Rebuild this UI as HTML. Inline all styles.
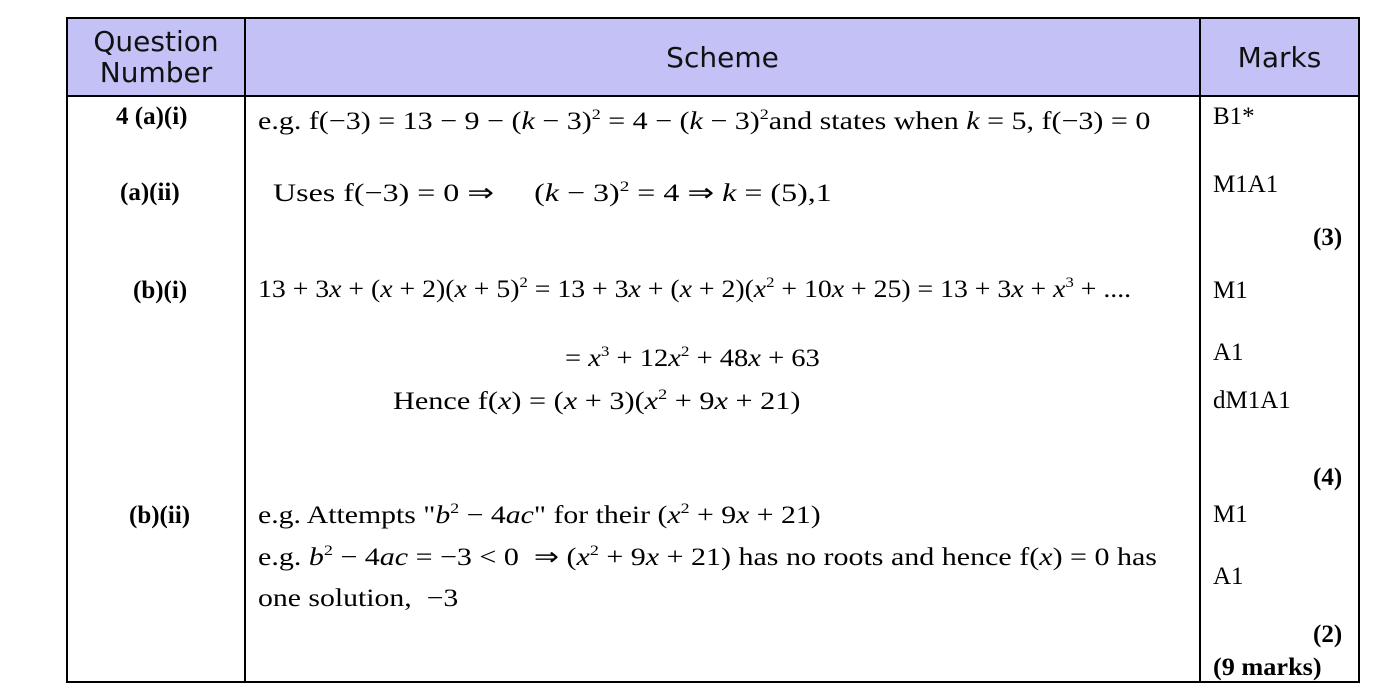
<!DOCTYPE html>
<html><head><style>
body{margin:0;width:1388px;height:690px;background:#fff;position:relative;overflow:hidden}
.b{position:absolute;background:#000}
.t{position:absolute;font-family:"Liberation Serif",serif;font-size:25px;color:#000;white-space:nowrap;line-height:1;transform-origin:0 0}
.h{position:absolute;font-family:"DejaVu Sans","Liberation Sans",sans-serif;font-size:28px;color:#111;text-align:center;line-height:31px}
.bd{font-weight:bold}
i{font-style:italic}
sup{font-size:15px;vertical-align:10px}
</style></head><body>
<div style="position:absolute;left:67px;top:18px;width:1292px;height:78px;background:#c4c1f6"></div>
<div class="b" style="left:66px;top:17px;width:1294px;height:2px"></div>
<div class="b" style="left:66px;top:95px;width:1294px;height:2px"></div>
<div class="b" style="left:66px;top:681px;width:1294px;height:2px"></div>
<div class="b" style="left:66px;top:17px;width:2px;height:666px"></div>
<div class="b" style="left:244px;top:17px;width:2px;height:666px"></div>
<div class="b" style="left:1199px;top:17px;width:2px;height:666px"></div>
<div class="b" style="left:1358px;top:17px;width:2px;height:666px"></div>
<div class="h" style="left:68px;top:26px;width:176px">Question<br>Number</div>
<div class="h" style="left:246px;top:42px;width:953px">Scheme</div>
<div class="h" style="left:1201px;top:42px;width:157px">Marks</div>

<div class="t bd" style="left:116px;top:104px">4 (a)(i)</div>
<div class="t bd" style="left:120px;top:180px">(a)(ii)</div>
<div class="t bd" style="left:133px;top:278px">(b)(i)</div>
<div class="t bd" style="left:129px;top:503px">(b)(ii)</div>

<div class="t" style="left:258px;top:108px;transform:scaleX(1.2)">e.g. f(−3) = 13 − 9 − (<i>k</i> − 3)<sup>2</sup> = 4 − (<i>k</i> − 3)<sup>2</sup>and states when <i>k</i> = 5, f(−3) = 0</div>
<div class="t" style="left:273px;top:180px;transform:scaleX(1.28)">Uses f(−3) = 0 ⇒ &nbsp;&nbsp;&nbsp;&nbsp;(<i>k</i> − 3)<sup>2</sup> = 4 ⇒ <i>k</i> = (5),1</div>
<div class="t" style="left:258px;top:276px;transform:scaleX(1.11)">13 + 3<i>x</i> + (<i>x</i> + 2)(<i>x</i> + 5)<sup>2</sup> = 13 + 3<i>x</i> + (<i>x</i> + 2)(<i>x</i><sup>2</sup> + 10<i>x</i> + 25) = 13 + 3<i>x</i> + <i>x</i><sup>3</sup> + ....</div>
<div class="t" style="left:565px;top:345px;transform:scaleX(1.14)">= <i>x</i><sup>3</sup> + 12<i>x</i><sup>2</sup> + 48<i>x</i> + 63</div>
<div class="t" style="left:393px;top:388px;transform:scaleX(1.21)">Hence f(<i>x</i>) = (<i>x</i> + 3)(<i>x</i><sup>2</sup> + 9<i>x</i> + 21)</div>
<div class="t" style="left:258px;top:502px;transform:scaleX(1.19)">e.g. Attempts "<i>b</i><sup>2</sup> − 4<i>ac</i>" for their (<i>x</i><sup>2</sup> + 9<i>x</i> + 21)</div>
<div class="t" style="left:258px;top:544px;transform:scaleX(1.2)">e.g. <i>b</i><sup>2</sup> − 4<i>ac</i> = −3 &lt; 0 &nbsp;⇒ (<i>x</i><sup>2</sup> + 9<i>x</i> + 21) has no roots and hence f(<i>x</i>) = 0 has</div>
<div class="t" style="left:258px;top:586px;transform:scaleX(1.19)">one solution, &nbsp;−3</div>

<div class="t" style="left:1213px;top:104px">B1*</div>
<div class="t" style="left:1213px;top:172px">M1A1</div>
<div class="t bd" style="left:1313px;top:225px">(3)</div>
<div class="t" style="left:1213px;top:278px">M1</div>
<div class="t" style="left:1213px;top:340px">A1</div>
<div class="t" style="left:1213px;top:388px">dM1A1</div>
<div class="t bd" style="left:1313px;top:465px">(4)</div>
<div class="t" style="left:1213px;top:502px">M1</div>
<div class="t" style="left:1213px;top:564px">A1</div>
<div class="t bd" style="left:1313px;top:622px">(2)</div>
<div class="t bd" style="left:1213px;top:655px;transform:scaleX(1.05)">(9 marks)</div>
</body></html>
